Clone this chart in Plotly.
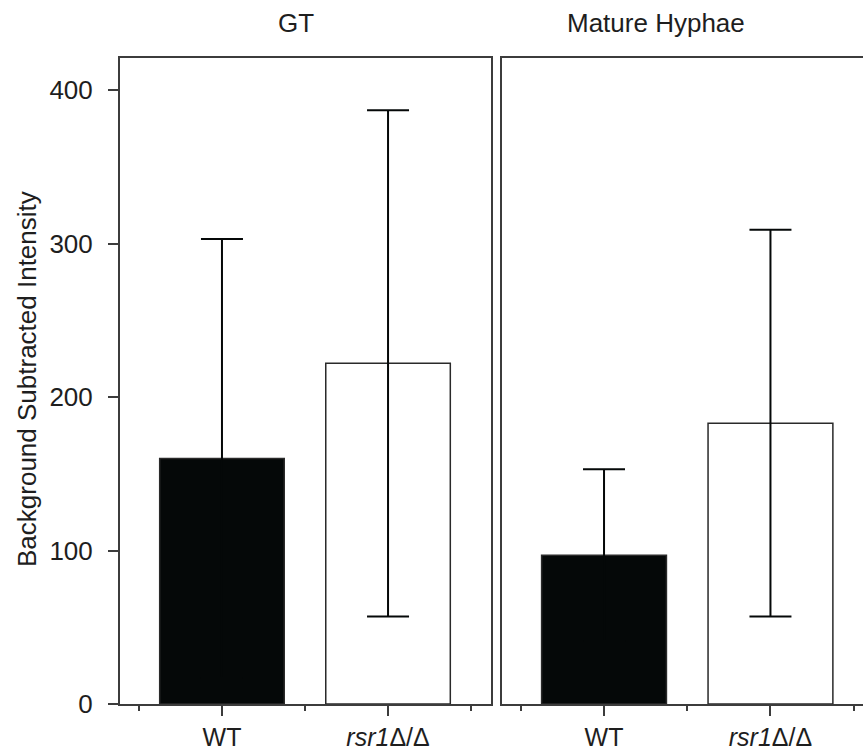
import plotly.graph_objects as go

# Data
panels = ["GT", "Mature Hyphae"]
categories = ["WT", "<i>rsr1</i>Δ/Δ"]
gt_means = [160, 222]
gt_errors = [143, 165]
mh_means = [97, 183]
mh_errors = [56, 126]
y_ticks = [0, 100, 200, 300, 400]

W, H = 863, 751
font = "Liberation Sans, Arial, sans-serif"
txt = "#1e1e1e"
line_col = "#3c3c3c"
black = "#050808"

fig = go.Figure()

bar_fill = [black, "#ffffff"]
for means, errs, xa, ya in [(gt_means, gt_errors, "x", "y"), (mh_means, mh_errors, "x2", "y2")]:
    fig.add_trace(go.Bar(
        x=[0, 1], y=means, xaxis=xa, yaxis=ya, width=0.75,
        marker=dict(color=bar_fill, line=dict(color="#2a2a2a", width=1.5)),
        error_y=dict(type="data", array=errs, symmetric=True, color=black,
                     thickness=2, width=21),
        showlegend=False,
    ))

x_dom1 = [120 / W, 491 / W]
x_dom2 = [502 / W, 1.0]
y_dom = [1 - 704 / H, 1 - 58 / H]

common_x = dict(
    tickmode="array", tickvals=[0, 1], ticktext=categories,
    ticks="outside", ticklen=10, tickwidth=1.5, tickcolor=line_col,
    minor=dict(tickmode="array", tickvals=[-0.5, 0.5, 1.5], ticks="outside",
               ticklen=5, tickwidth=1.5, tickcolor=line_col),
    showline=True, linecolor=line_col, linewidth=2, mirror=True,
    showgrid=False, zeroline=False, automargin=False,
    tickfont=dict(family=font, size=25, color=txt),
    ticklabelstandoff=0,
)

fig.update_layout(
    width=W, height=H,
    margin=dict(l=0, r=0, t=0, b=0, autoexpand=False),
    paper_bgcolor="white", plot_bgcolor="white",
    bargap=0.25,
    xaxis=dict(domain=x_dom1, range=[-0.614, 1.62], anchor="y", **common_x),
    xaxis2=dict(domain=x_dom2, range=[-0.613, 1.556], anchor="y2", **common_x),
    yaxis=dict(domain=y_dom, range=[0, 421], anchor="x",
               tickmode="array", tickvals=y_ticks,
               ticks="outside", ticklen=10, tickwidth=1.5, tickcolor=line_col,
               showline=True, linecolor=line_col, linewidth=2, mirror=True,
               showgrid=False, zeroline=False, ticklabelstandoff=10,
               automargin=False,
               tickfont=dict(family=font, size=26, color=txt)),
    yaxis2=dict(domain=y_dom, range=[0, 421], anchor="x2",
                showticklabels=False, ticks="", automargin=False,
                showline=True, linecolor=line_col, linewidth=2, mirror=False,
                showgrid=False, zeroline=False),
)

fig.add_annotation(text=panels[0], x=296 / W, y=1 - 23 / H, xref="paper", yref="paper",
                   showarrow=False, xanchor="center", yanchor="middle",
                   font=dict(family=font, size=26, color=txt))
fig.add_annotation(text=panels[1], x=656 / W, y=1 - 23 / H, xref="paper", yref="paper",
                   showarrow=False, xanchor="center", yanchor="middle",
                   font=dict(family=font, size=26, color=txt))
fig.add_annotation(text="Background Subtracted Intensity", x=27 / W, y=1 - 379 / H,
                   xref="paper", yref="paper", showarrow=False, textangle=-90,
                   xanchor="center", yanchor="middle",
                   font=dict(family=font, size=26, color=txt))

fig.write_html("out.html")
